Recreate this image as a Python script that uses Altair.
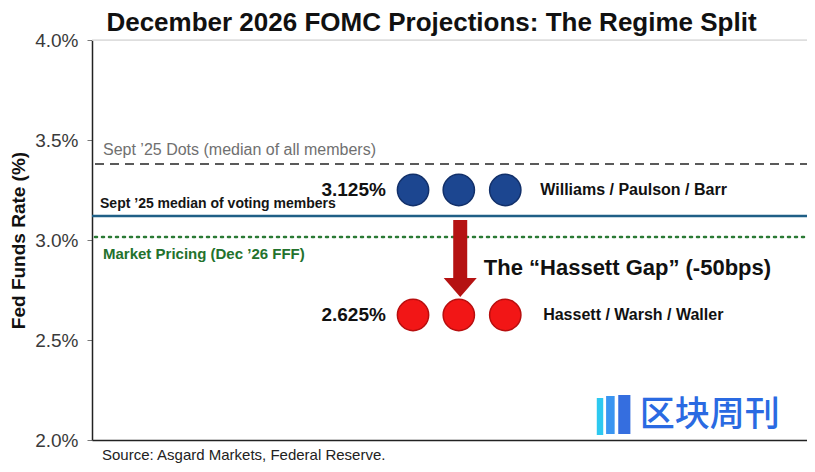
import altair as alt
import pandas as pd

# ---------------- data ----------------
y_ticks = [2.0, 2.5, 3.0, 3.5, 4.0]

ref_dots_all = 3.38        # Sept '25 dots median (dashed)
ref_voting = 3.12          # Sept '25 median of voting members (solid)
ref_market = 3.015         # Market pricing (dotted)

dot_x = [44.9, 51.3, 57.8]
hawk_y = 3.25
dove_y = 2.625
hawk_label = "3.125%"
dove_label = "2.625%"
hawk_names = "Williams / Paulson / Barr"
dove_names = "Hassett / Warsh / Waller"

line_labels = [
    "Sept \u201925 Dots (median of all members)",
    "Sept \u201925 median of voting members",
    "Market Pricing (Dec \u201926 FFF)",
]
line_label_x = [1.54, 1.12, 1.54]
line_label_y = [3.45, 3.18, 2.93]

arrow_x = 51.5
arrow_top = 3.10
arrow_shaft_end = 2.80
arrow_head_y = 2.765
gap_text = "The \u201cHassett Gap\u201d (-50bps)"
gap_x = 54.8
gap_y = 2.86

title = "December 2026 FOMC Projections: The Regime Split"
source = "Source: Asgard Markets, Federal Reserve."
source_x, source_y = 1.4, 1.925

wm_text = "区块周刊"
wm_x, wm_y = 76.6, 2.125
wm_bars_x = [70.6, 71.9, 73.6]
wm_bars_x2 = [71.5, 73.1, 75.3]
wm_bars_y = [2.21, 2.22, 2.225]
wm_bars_y2 = [2.025, 2.03, 2.03]
wm_bars_c = ["#22c6ef", "#2f8ff0", "#2a66dd"]

# ---------------- scales ----------------
X = alt.Scale(domain=[0, 100], nice=False, zero=False)
Y = alt.Scale(domain=[2.0, 4.0], nice=False, zero=False)

SANS = "Liberation Sans, Arial, sans-serif"

base_x = alt.X("x:Q", scale=X,
               axis=alt.Axis(title=None, labels=False, ticks=False, grid=False,
                             domainColor="#222", domainWidth=1.5))
base_y = alt.Y("y:Q", scale=Y,
               axis=alt.Axis(values=y_ticks, grid=False,
                             labelExpr="format(datum.value, '.1f') + '%'",
                             labelFont=SANS, labelFontSize=19, labelColor="#3a3a3a",
                             labelPadding=9, tickSize=5, tickColor="#777",
                             domainColor="#222", domainWidth=1.5,
                             title="Fed Funds Rate (%)", titleFont=SANS,
                             titleFontSize=19, titleFontWeight="bold",
                             titleColor="#111", titleX=-74, titleY=200,
                             titleAngle=-90, titleAlign="center",
                             titleBaseline="middle"))

# axis carrier layer (invisible)
axis_df = pd.DataFrame({"x": [0, 100], "y": [2.0, 4.0]})
axes = alt.Chart(axis_df).mark_point(opacity=0).encode(x=base_x, y=base_y)

top_grid = alt.Chart(pd.DataFrame({"y": [4.0]})).mark_rule(
    color="#dedede", strokeWidth=1.5).encode(y=alt.Y("y:Q", scale=Y))

dashed = alt.Chart(pd.DataFrame({"y": [ref_dots_all]})).mark_rule(
    color="#5a5a5a", strokeWidth=2, strokeDash=[9, 6]).encode(
    y=alt.Y("y:Q", scale=Y), x=alt.value(3), x2=alt.value(715))
solid = alt.Chart(pd.DataFrame({"y": [ref_voting]})).mark_rule(
    color="#1f5f86", strokeWidth=2.5).encode(
    y=alt.Y("y:Q", scale=Y), x=alt.value(0), x2=alt.value(715))
dotted = alt.Chart(pd.DataFrame({"y": [ref_market]})).mark_rule(
    color="#2b7a35", strokeWidth=2.5, strokeDash=[2, 5], strokeCap="round").encode(
    y=alt.Y("y:Q", scale=Y), x=alt.value(3), x2=alt.value(715))

lbl_df = pd.DataFrame({"x": line_label_x, "y": line_label_y, "t": line_labels})
lbl_dots = alt.Chart(lbl_df.iloc[[0]]).mark_text(
    align="left", baseline="middle", font=SANS, fontSize=16, color="#707070").encode(
    x=alt.X("x:Q", scale=X), y=alt.Y("y:Q", scale=Y), text="t:N")
lbl_vote = alt.Chart(lbl_df.iloc[[1]]).mark_text(
    align="left", baseline="middle", font=SANS, fontSize=14, fontWeight="bold",
    color="#151515").encode(
    x=alt.X("x:Q", scale=X), y=alt.Y("y:Q", scale=Y), text="t:N")
lbl_mkt = alt.Chart(lbl_df.iloc[[2]]).mark_text(
    align="left", baseline="middle", font=SANS, fontSize=15, fontWeight="bold",
    color="#23722d").encode(
    x=alt.X("x:Q", scale=X), y=alt.Y("y:Q", scale=Y), text="t:N")

dots_df = pd.DataFrame({
    "x": dot_x + dot_x,
    "y": [hawk_y] * 3 + [dove_y] * 3,
    "g": ["hawk"] * 3 + ["dove"] * 3,
})
dots = alt.Chart(dots_df).mark_point(filled=True, size=980, opacity=1,
                                     strokeWidth=1.5).encode(
    x=alt.X("x:Q", scale=X), y=alt.Y("y:Q", scale=Y),
    fill=alt.Fill("g:N", scale=alt.Scale(domain=["hawk", "dove"],
                                         range=["#1c4690", "#f21616"]), legend=None),
    stroke=alt.Stroke("g:N", scale=alt.Scale(domain=["hawk", "dove"],
                                             range=["#12306a", "#b80e0e"]), legend=None))

val_df = pd.DataFrame({"x": [41.1, 41.1], "y": [hawk_y, dove_y],
                       "t": [hawk_label, dove_label]})
vals = alt.Chart(val_df).mark_text(align="right", baseline="middle", font=SANS,
                                   fontSize=19, fontWeight="bold", color="#111").encode(
    x=alt.X("x:Q", scale=X), y=alt.Y("y:Q", scale=Y), text="t:N")

name_df = pd.DataFrame({"x": [62.7, 63.1], "y": [hawk_y, dove_y],
                        "t": [hawk_names, dove_names]})
names = alt.Chart(name_df).mark_text(align="left", baseline="middle", font=SANS,
                                     fontSize=16, fontWeight="bold", color="#111").encode(
    x=alt.X("x:Q", scale=X), y=alt.Y("y:Q", scale=Y), text="t:N")

shaft = alt.Chart(pd.DataFrame({"x": [arrow_x], "y": [arrow_top],
                                "y2": [arrow_shaft_end]})).mark_rule(
    color="#b51212", strokeWidth=14, strokeCap="butt").encode(
    x=alt.X("x:Q", scale=X), y=alt.Y("y:Q", scale=Y), y2="y2:Q")
head = alt.Chart(pd.DataFrame({"x": [arrow_x], "y": [arrow_head_y]})).mark_point(
    shape="M-1,-0.55L1,-0.55L0,0.6Z", filled=True, size=1089, opacity=1,
    color="#b51212").encode(x=alt.X("x:Q", scale=X), y=alt.Y("y:Q", scale=Y))

gap = alt.Chart(pd.DataFrame({"x": [gap_x], "y": [gap_y], "t": [gap_text]})).mark_text(
    align="left", baseline="middle", font=SANS, fontSize=22, fontWeight="bold",
    color="#111").encode(x=alt.X("x:Q", scale=X), y=alt.Y("y:Q", scale=Y), text="t:N")

src = alt.Chart(pd.DataFrame({"x": [source_x], "y": [source_y], "t": [source]})).mark_text(
    align="left", baseline="middle", font=SANS, fontSize=15, color="#222").encode(
    x=alt.X("x:Q", scale=X), y=alt.Y("y:Q", scale=Y), text="t:N")

wm_bars = alt.Chart(pd.DataFrame({"x": wm_bars_x, "x2": wm_bars_x2, "y": wm_bars_y,
                                  "y2": wm_bars_y2, "c": wm_bars_c})).mark_rect(
    opacity=0.95).encode(x=alt.X("x:Q", scale=X), x2="x2:Q",
                         y=alt.Y("y:Q", scale=Y), y2="y2:Q",
                         color=alt.Color("c:N", scale=None))
wm = alt.Chart(pd.DataFrame({"x": [wm_x], "y": [wm_y], "t": [wm_text]})).mark_text(
    align="left", baseline="middle", font="Noto Sans CJK SC", fontSize=35,
    fontWeight=500, color="#2a6ae2").encode(
    x=alt.X("x:Q", scale=X), y=alt.Y("y:Q", scale=Y), text="t:N")

chart = alt.layer(
    axes, top_grid, dashed, solid, dotted, lbl_dots, lbl_vote, lbl_mkt,
    shaft, head, dots, vals, names, gap, src, wm_bars, wm
).properties(
    width=715, height=400,
    title=alt.TitleParams(title, font=SANS, fontSize=26, fontWeight="bold",
                          color="#111", anchor="middle", dx=-18, offset=-5),
    autosize=alt.AutoSizeParams(type="none"),
    padding={"left": 84, "top": 32, "right": 0, "bottom": 24},
).configure_view(stroke=None).configure(background="#ffffff")

chart.save("out.html", embed_options={"renderer": "svg", "actions": False})
